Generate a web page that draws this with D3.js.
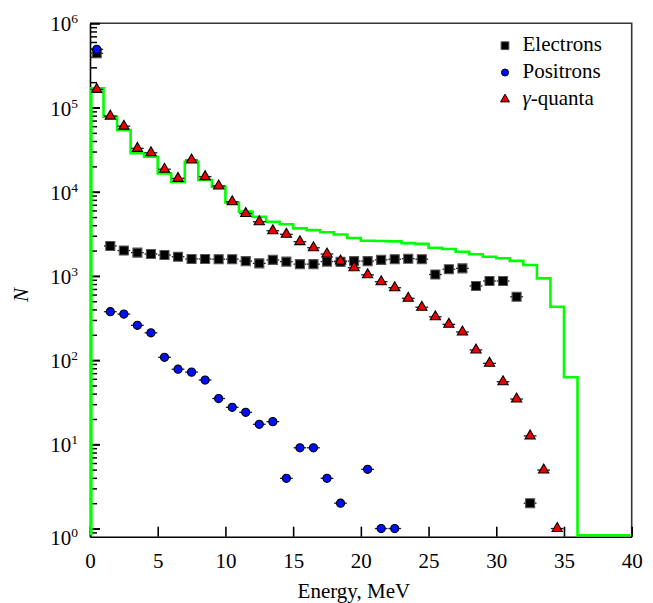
<!DOCTYPE html>
<html>
<head>
<meta charset="utf-8">
<script src="https://cdn.jsdelivr.net/npm/d3@7"></script>
<style>
  body { margin: 0; background: #fff; }
</style>
</head>
<body>
<div class="chart-container"></div>
<script>
// bin centres (MeV) for each measured series
const electronE = [0.5, 1.5, 2.5, 3.5, 4.5, 5.5, 6.5, 7.5, 8.5, 9.5, 10.5, 11.5, 12.5, 13.5, 14.5, 15.5, 16.5,
    17.5, 18.5, 19.5, 20.5, 21.5, 22.5, 23.5, 24.5, 25.5, 26.5, 27.5, 28.5, 29.5, 30.5, 31.5, 32.5];
const electrons = [4.4e5, 2270, 2000, 1890, 1820, 1770, 1690, 1590, 1590, 1580, 1580, 1500, 1410, 1550, 1480, 1380, 1380,
    1480, 1470, 1500, 1500, 1550, 1580, 1600, 1580, 1040, 1200, 1230, 760, 870, 870, 566, 2.0];

const positronE = [0.5, 1.5, 2.5, 3.5, 4.5, 5.5, 6.5, 7.5, 8.5, 9.5, 10.5, 11.5, 12.5, 13.5, 14.5, 15.5, 16.5,
    17.5, 18.5, 20.5, 21.5, 22.5];
const positrons = [4.9e5, 376, 352, 259, 211, 108, 78, 72, 58, 35, 27.5, 24, 17.3, 18.6, 3.95, 9.1, 9.1,
    3.95, 2.0, 5.05, 1.0, 1.0];

const gammaE = [0.5, 1.5, 2.5, 3.5, 4.5, 5.5, 6.5, 7.5, 8.5, 9.5, 10.5, 11.5, 12.5, 13.5, 14.5, 15.5, 16.5,
    17.5, 18.5, 19.5, 20.5, 21.5, 22.5, 23.5, 24.5, 25.5, 26.5, 27.5, 28.5, 29.5, 30.5, 31.5, 32.5, 33.5, 34.5];
const gamma = [1.64e5, 7.9e4, 6.0e4, 3.27e4, 2.9e4, 1.85e4, 1.44e4, 2.38e4, 1.51e4, 1.17e4, 7600, 5500, 4400, 3440, 3120,
    2550, 2160, 1820, 1500, 1250, 1030, 853, 724, 542, 425, 327, 266, 216, 132, 91.6, 55.4, 34.5, 12.6, 4.95, 1.0];

// green histogram: left bin edges and contents (0 = empty bin)
const histEdges = [0, 1, 2, 3, 4, 5, 6, 7, 8, 9, 10, 11, 12, 13, 14, 15, 16, 17, 18, 19,
    20, 21, 22, 23, 24, 25, 26, 27, 28, 29, 30, 31, 32, 33, 34, 35, 36, 37, 38, 39];
const histValues = [1.69e5, 7.8e4, 5.4e4, 2.86e4, 2.6e4, 1.65e4, 1.31e4, 2.27e4, 1.38e4, 1.15e4,
    7400, 5800, 5050, 4400, 4100, 3670, 3500, 3300, 3100, 2820,
    2620, 2600, 2570, 2450, 2400, 2160, 2090, 1940, 1810, 1690,
    1620, 1510, 1350, 936, 430, 62.5, 0, 0, 0, 0];

const xTicks = [0, 5, 10, 15, 20, 25, 30, 35, 40];
const yExponents = [0, 1, 2, 3, 4, 5, 6];
const legendNames = ["Electrons", "Positrons", "-quanta"];

const serif = "'Liberation Serif', 'Times New Roman', Times, serif";

const margin = { top: 23.3, right: 21.3, bottom: 66.3, left: 90 },
      width = 653 - margin.left - margin.right,
      height = 603 - margin.top - margin.bottom;

const svg = d3.select(".chart-container").append("svg")
    .attr("width", width + margin.left + margin.right)
    .attr("height", height + margin.top + margin.bottom)
    .style("font-family", serif)
    .append("g")
    .attr("transform", "translate(" + margin.left + "," + margin.top + ")");

const x = d3.scaleLinear().domain([0, 40]).range([0, width]);
const y = d3.scaleLog().domain([0.8, 1e6]).range([height, 0]);

// frame (top and right)
svg.append("path")
    .attr("d", `M0,0H${width}V${height}`)
    .attr("fill", "none")
    .attr("stroke", "#333")
    .attr("stroke-width", 1.6);

// y axis: major and minor ticks pointing inwards
const decades = yExponents.map(e => Math.pow(10, e));
const minor = y.ticks().filter(v => v > 0.85 && !decades.includes(v));

svg.append("g")
    .call(d3.axisLeft(y).tickValues(minor).tickSizeInner(-7).tickSizeOuter(0).tickFormat(""))
    .call(g => g.selectAll("line").attr("stroke-width", 1.5));
svg.append("g")
    .call(d3.axisLeft(y).tickValues(decades).tickSizeInner(-10).tickSizeOuter(0).tickFormat(""))
    .call(g => g.selectAll("line").attr("stroke-width", 2))
    .call(g => g.select(".domain").attr("stroke-width", 1.6));

// y tick labels 10^n
const yLab = svg.append("g").selectAll("text")
    .data(yExponents)
    .enter().append("text")
    .attr("x", -12)
    .attr("y", e => (e === 0 ? y.range()[0] : y(Math.pow(10, e))) + 8)
    .attr("text-anchor", "end")
    .style("font-family", serif)
    .attr("font-size", 21);
yLab.append("tspan").text("10");
yLab.append("tspan").attr("dy", -8).attr("font-size", 13.5).text(e => e);

// x axis
svg.append("g")
    .attr("transform", "translate(0," + height + ")")
    .call(d3.axisBottom(x).tickValues(xTicks).tickSizeInner(-10).tickSizeOuter(0).tickPadding(16))
    .call(g => g.attr("font-size", 21).attr("font-family", null))
    .call(g => g.selectAll("text").style("font-family", serif))
    .call(g => g.selectAll("line").attr("stroke-width", 1.6))
    .call(g => g.select(".domain").attr("stroke-width", 1.6));

// axis titles
svg.append("text")
    .attr("x", width / 2 - 7)
    .attr("y", height + 61)
    .attr("text-anchor", "middle")
    .attr("font-size", 21)
    .style("font-family", serif)
    .text("Energy, MeV");

svg.append("text")
    .attr("transform", "translate(" + (-62) + "," + (height / 2 + 15) + ") rotate(-90)")
    .attr("text-anchor", "middle")
    .attr("font-size", 21)
    .attr("font-style", "italic")
    .style("font-family", serif)
    .text("N");

// histogram (step line)
const bottomY = y.range()[0] - 1.5;
const histPts = [{ e: 0, v: 0 }]
    .concat(histEdges.map((e, i) => ({ e: e, v: histValues[i] })))
    .concat([{ e: 40, v: histValues[histValues.length - 1] }]);

const step = d3.line()
    .curve(d3.curveStepAfter)
    .x(d => Math.min(Math.max(x(d.e), x(0) + 1.3), x(40) - 1))
    .y(d => d.v > 0 ? y(d.v) : bottomY);

svg.append("path")
    .datum(histPts)
    .attr("d", step)
    .attr("fill", "none")
    .attr("stroke", "#00ff00")
    .attr("stroke-width", 2.6);

// measured series
const series = [
    { name: legendNames[0], e: electronE, v: electrons, symbol: d3.symbolSquare, size: 81, fill: "#000", stroke: "#555" },
    { name: legendNames[1], e: positronE, v: positrons, symbol: d3.symbolCircle, size: 52, fill: "#0010f0", stroke: "#000" },
    { name: legendNames[2], e: gammaE, v: gamma, symbol: d3.symbolTriangle, size: 46, fill: "#ee0000", stroke: "#000" }
];

series.forEach(s => {
    const pts = s.e.map((e, i) => ({ e: e, v: s.v[i] }));
    const g = svg.append("g");

    g.selectAll("line")
        .data(pts)
        .enter().append("line")
        .attr("x1", d => x(d.e - 0.47))
        .attr("x2", d => x(d.e + 0.47))
        .attr("y1", d => y(d.v))
        .attr("y2", d => y(d.v))
        .attr("stroke", "#1a1a33")
        .attr("stroke-width", 1.3);

    g.selectAll("path")
        .data(pts)
        .enter().append("path")
        .attr("transform", d => "translate(" + x(d.e) + "," + y(d.v) + ")")
        .attr("d", d3.symbol().type(s.symbol).size(s.size))
        .attr("fill", s.fill)
        .attr("stroke", s.stroke)
        .attr("stroke-width", 1.1);
});

// legend
const legend = svg.append("g")
    .attr("transform", "translate(" + (415) + "," + 22.4 + ")");

series.forEach((s, i) => {
    const row = legend.append("g").attr("transform", "translate(0," + (i * 26.8) + ")");
    row.append("path")
        .attr("d", d3.symbol().type(s.symbol).size(s.size * 0.75))
        .attr("fill", s.fill)
        .attr("stroke", s.stroke)
        .attr("stroke-width", 1);
    const t = row.append("text")
        .attr("x", 17.5)
        .attr("y", 5.5)
        .attr("font-size", 21)
        .style("font-family", serif);
    if (i === 2) t.append("tspan").attr("font-style", "italic").text("\u03b3");
    t.append("tspan").text(s.name);
});
</script>
</body>
</html>
